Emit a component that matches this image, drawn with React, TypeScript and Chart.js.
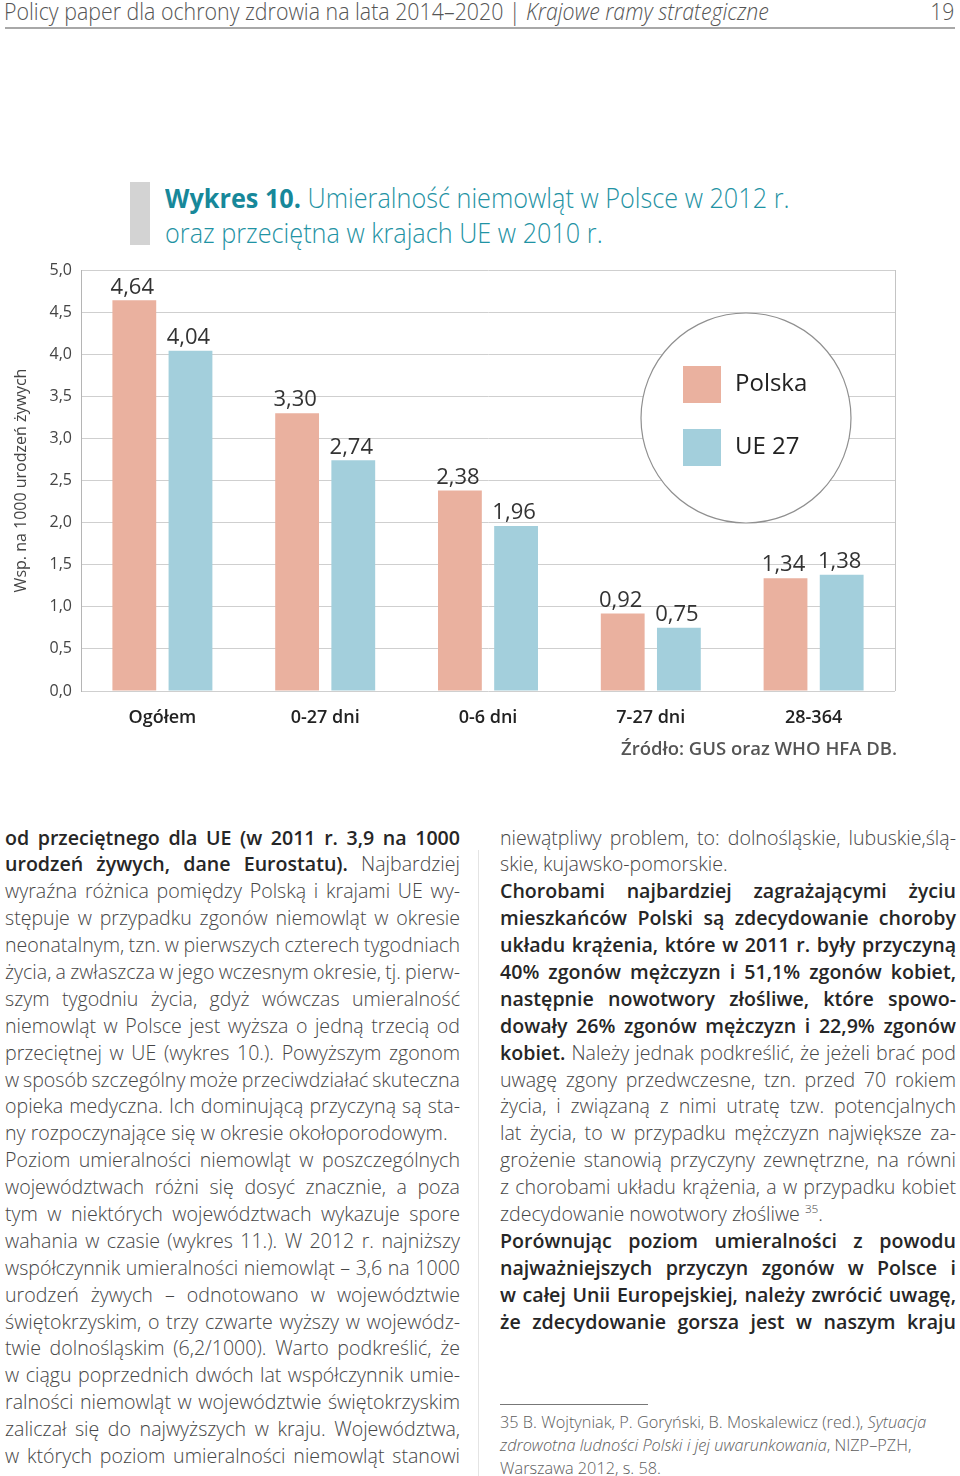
import React, { useEffect, useRef } from "react";
import { Chart, registerables } from "chart.js";

Chart.register(...registerables);

const categories = ["Ogółem", "0-27 dni", "0-6 dni", "7-27 dni", "28-364"];
const polska = [4.64, 3.3, 2.38, 0.92, 1.34];
const ue27 = [4.04, 2.74, 1.96, 0.75, 1.38];
const seriesNames = ["Polska", "UE 27"];
const seriesColors = ["#EAB19F", "#A3CFDC"];
const yAxisTitle = "Wsp. na 1000 urodzeń żywych";
const sourceNote = "Źródło: GUS oraz WHO HFA DB.";

type Part = { t: string; b?: boolean; i?: boolean; sup?: boolean };
type Line = { p: Part[]; last?: boolean };

const L = (t: string, last?: boolean): Line => ({ p: [{ t }], last });
const B = (t: string, last?: boolean): Line => ({ p: [{ t, b: true }], last });

const leftCol: Line[] = [
  B("od przeciętnego dla UE (w 2011 r. 3,9 na 1000"),
  { p: [{ t: "urodzeń żywych, dane Eurostatu).", b: true }, { t: " Najbardziej" }] },
  L("wyraźna różnica pomiędzy Polską i krajami UE wy-"),
  L("stępuje w przypadku zgonów niemowląt w okresie"),
  L("neonatalnym, tzn. w pierwszych czterech tygodniach"),
  L("życia, a zwłaszcza w jego wczesnym okresie, tj. pierw-"),
  L("szym tygodniu życia, gdyż wówczas umieralność"),
  L("niemowląt w Polsce jest wyższa o jedną trzecią od"),
  L("przeciętnej w UE (wykres 10.). Powyższym zgonom"),
  L("w sposób szczególny może przeciwdziałać skuteczna"),
  L("opieka medyczna. Ich dominującą przyczyną są sta-"),
  L("ny rozpoczynające się w okresie okołoporodowym.", true),
  L("Poziom umieralności niemowląt w poszczególnych"),
  L("województwach różni się dosyć znacznie, a poza"),
  L("tym w niektórych województwach wykazuje spore"),
  L("wahania w czasie (wykres 11.). W 2012 r. najniższy"),
  L("współczynnik umieralności niemowląt – 3,6 na 1000"),
  L("urodzeń żywych – odnotowano w województwie"),
  L("świętokrzyskim, o trzy czwarte wyższy w wojewódz-"),
  L("twie dolnośląskim (6,2/1000). Warto podkreślić, że"),
  L("w ciągu poprzednich dwóch lat współczynnik umie-"),
  L("ralności niemowląt w województwie świętokrzyskim"),
  L("zaliczał się do najwyższych w kraju. Województwa,"),
  L("w których poziom umieralności niemowląt stanowi"),
];

const rightCol: Line[] = [
  L("niewątpliwy problem, to: dolnośląskie, lubuskie,ślą-"),
  L("skie, kujawsko-pomorskie.", true),
  B("Chorobami najbardziej zagrażającymi życiu"),
  B("mieszkańców Polski są zdecydowanie choroby"),
  B("układu krążenia, które w 2011 r. były przyczyną"),
  B("40% zgonów mężczyzn i 51,1% zgonów kobiet,"),
  B("następnie nowotwory złośliwe, które spowo-"),
  B("dowały 26% zgonów mężczyzn i 22,9% zgonów"),
  { p: [{ t: "kobiet.", b: true }, { t: " Należy jednak podkreślić, że jeżeli brać pod" }] },
  L("uwagę zgony przedwczesne, tzn. przed 70 rokiem"),
  L("życia, i związaną z nimi utratę tzw. potencjalnych"),
  L("lat życia, to w przypadku mężczyzn największe za-"),
  L("grożenie stanowią przyczyny zewnętrzne, na równi"),
  L("z chorobami układu krążenia, a w przypadku kobiet"),
  { p: [{ t: "zdecydowanie nowotwory złośliwe " }, { t: "35", sup: true }, { t: "." }], last: true },
  B("Porównując poziom umieralności z powodu"),
  B("najważniejszych przyczyn zgonów w Polsce i"),
  B("w całej Unii Europejskiej, należy zwrócić uwagę,"),
  B("że zdecydowanie gorsza jest w naszym kraju"),
];

const footnote: Line[] = [
  { p: [{ t: "35 B. Wojtyniak, P. Goryński, B. Moskalewicz (red.), " }, { t: "Sytuacja", i: true }], last: true },
  { p: [{ t: "zdrowotna ludności Polski i jej uwarunkowania", i: true }, { t: ", NIZP–PZH," }], last: true },
  L("Warszawa 2012, s. 58.", true),
];

const fmt = (v: number, d: number) => v.toFixed(d).replace(".", ",");

function TextLines({ lines, left, top, width, size, lh, color, boldColor }: any) {
  return (
    <div style={{ position: "absolute", left, top, width }}>
      {lines.map((ln: Line, i: number) => (
        <div
          key={i}
          style={{
            height: lh,
            lineHeight: lh + "px",
            fontSize: size,
            textAlign: "justify",
            textAlignLast: ln.last ? "left" : "justify",
            whiteSpace: "nowrap",
            wordSpacing: ln.last ? "0px" : "-1.5px",
            color,
            fontWeight: 300,
          } as any}
        >
          {ln.p.map((pt, j) => (
            <span
              key={j}
              style={{
                fontWeight: pt.b ? 600 : 300,
                color: pt.b ? boldColor : color,
                fontStyle: pt.i ? "italic" : "normal",
                fontSize: pt.sup ? size * 0.6 : undefined,
                verticalAlign: pt.sup ? "super" : undefined,
                lineHeight: pt.sup ? "0" : undefined,
              }}
            >
              {pt.t}
            </span>
          ))}
        </div>
      ))}
    </div>
  );
}

const valueLabels = {
  id: "valueLabels",
  afterDatasetsDraw(chart: any) {
    const ctx = chart.ctx;
    ctx.save();
    ctx.font = "400 22px 'Open Sans'";
    ctx.fillStyle = "#333";
    ctx.textAlign = "center";
    ctx.textBaseline = "middle";
    chart.data.datasets.forEach((ds: any, di: number) => {
      const meta = chart.getDatasetMeta(di);
      meta.data.forEach((bar: any, i: number) => {
        ctx.fillText(fmt(ds.data[i], 2), bar.x - 2, bar.y - 13);
      });
    });
    ctx.restore();
  },
};

const circleLegend = {
  id: "circleLegend",
  afterDatasetsDraw(chart: any) {
    const { ctx, chartArea } = chart;
    const cx = chartArea.right - 149;
    const cy = chartArea.top + 148;
    ctx.save();
    ctx.strokeStyle = "#c4c4c4";
    ctx.lineWidth = 1;
    ctx.beginPath();
    ctx.moveTo(chartArea.right + 0.5, chartArea.top);
    ctx.lineTo(chartArea.right + 0.5, chartArea.bottom);
    ctx.stroke();
    ctx.beginPath();
    ctx.arc(cx, cy, 105, 0, Math.PI * 2);
    ctx.fillStyle = "#fff";
    ctx.fill();
    ctx.strokeStyle = "#8f8f8f";
    ctx.lineWidth = 1.2;
    ctx.stroke();
    ctx.font = "400 24px 'Open Sans'";
    ctx.textAlign = "left";
    ctx.textBaseline = "middle";
    chart.data.datasets.forEach((ds: any, i: number) => {
      const top = cy - 52 + i * 63;
      ctx.fillStyle = ds.backgroundColor;
      ctx.fillRect(cx - 63, top, 38, 37);
      ctx.fillStyle = "#222";
      ctx.fillText(ds.label, cx - 11, top + 18);
    });
    ctx.restore();
  },
};

function BarChart() {
  const ref = useRef<HTMLCanvasElement>(null);
  useEffect(() => {
    if (!ref.current) return;
    const chart = new Chart(ref.current, {
      type: "bar",
      data: {
        labels: categories,
        datasets: [
          { label: seriesNames[0], data: polska, backgroundColor: seriesColors[0] },
          { label: seriesNames[1], data: ue27, backgroundColor: seriesColors[1] },
        ],
      },
      options: {
        animation: false,
        responsive: false,
        maintainAspectRatio: false,
        layout: { padding: { left: 0, right: 65, top: 20, bottom: 0 } },
        datasets: { bar: { categoryPercentage: 0.69, barPercentage: 0.78 } },
        plugins: { legend: { display: false }, tooltip: { enabled: false }, title: { display: false } },
        scales: {
          x: {
            grid: { display: false },
            border: { display: false },
            ticks: { color: "#222", font: { family: "'Open Sans'", size: 18, weight: 600 } as any, padding: 8, maxRotation: 0 },
            afterFit: (s: any) => { s.height = 89; },
          },
          y: {
            min: 0,
            max: 5,
            ticks: {
              stepSize: 0.5,
              color: "#444",
              padding: 9,
              font: { family: "'Open Sans'", size: 16 },
              callback: (v: any) => fmt(Number(v), 1),
            },
            grid: { color: "#cfcfcf", drawTicks: false, lineWidth: 1 },
            border: { display: true, color: "#b5b5b5" },
            title: {
              display: true,
              text: yAxisTitle,
              color: "#444",
              font: { family: "'Open Sans'", size: 16 },
              padding: { top: 12, bottom: 0 },
            },
            afterFit: (s: any) => { s.width = 81; },
          },
        },
      },
      plugins: [valueLabels, circleLegend],
    });
    return () => chart.destroy();
  }, []);
  return <canvas ref={ref} width={960} height={530} style={{ position: "absolute", left: 0, top: 250, width: 960, height: 530 }} />;
}

export default function App() {
  const teal = "#1f93a4";
  return (
    <div style={{ position: "absolute", left: 0, top: 0, width: 960, height: 1476, background: "#fff", fontFamily: "'Open Sans', sans-serif", overflow: "hidden" }}>
      {/* header */}
      <div style={{ position: "absolute", left: 4, top: -4, fontSize: 24, fontWeight: 300, color: "#555", whiteSpace: "nowrap", transform: "scaleX(0.89)", transformOrigin: "left top", lineHeight: "30px" }}>
        Policy paper dla ochrony zdrowia na lata 2014–2020 | <span style={{ fontStyle: "italic" }}>Krajowe ramy strategiczne</span>
      </div>
      <div style={{ position: "absolute", right: 6, top: -4, fontSize: 24, fontWeight: 300, color: "#555", lineHeight: "30px", transform: "scaleX(0.88)", transformOrigin: "right top" }}>19</div>
      <div style={{ position: "absolute", left: 5, top: 27, width: 950, height: 2, background: "#a8a8a8" }} />

      {/* title */}
      <div style={{ position: "absolute", left: 130, top: 182, width: 20, height: 63, background: "#d3d3d3" }} />
      <div style={{ position: "absolute", left: 165, top: 180, fontSize: 27, lineHeight: "35px", color: teal, fontWeight: 300, whiteSpace: "nowrap", transform: "scaleX(0.935)", transformOrigin: "left top" }}>
        <div>
          <span style={{ fontWeight: 700, color: "#17889a" }}>Wykres 10.</span> Umieralność niemowląt w Polsce w 2012 r.
        </div>
        <div>oraz przeciętna w krajach UE w 2010 r.</div>
      </div>

      <BarChart />

      <div style={{ position: "absolute", right: 63, top: 735, fontSize: 18.5, fontWeight: 600, color: "#555", whiteSpace: "nowrap", lineHeight: "26px" }}>{sourceNote}</div>

      {/* body */}
      <div style={{ position: "absolute", left: 478, top: 850, width: 1, height: 626, background: "#e4e4e4" }} />
      <TextLines lines={leftCol} left={5} top={824.5} width={455} size={19.6} lh={26.9} color="#464646" boldColor="#262626" />
      <TextLines lines={rightCol} left={500} top={824.5} width={456} size={19.6} lh={26.9} color="#464646" boldColor="#262626" />
      <div style={{ position: "absolute", left: 500, top: 1404, width: 148, height: 1, background: "#777" }} />
      <TextLines lines={footnote} left={500} top={1410.5} width={456} size={16.3} lh={23} color="#5c5c5c" boldColor="#333" />
    </div>
  );
}
